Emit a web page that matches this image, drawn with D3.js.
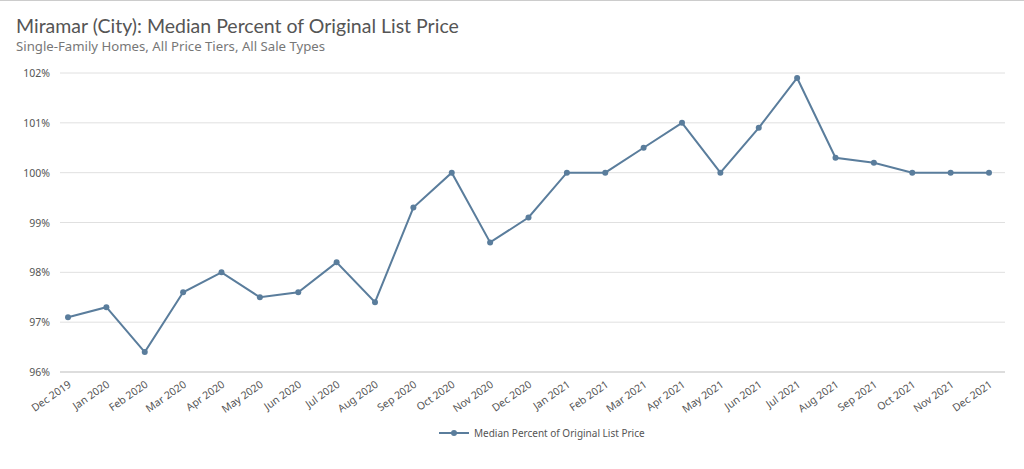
<!DOCTYPE html>
<html>
<head>
<meta charset="utf-8">
<script src="https://cdn.jsdelivr.net/npm/d3@7"></script>
<style>
  body { margin: 0; background: #fff; font-family: "Noto Sans", "Open Sans", sans-serif; }
</style>
</head>
<body>
<div id="chart"></div>
<script>
// Chart data
const months = ["Dec 2019", "Jan 2020", "Feb 2020", "Mar 2020", "Apr 2020", "May 2020", "Jun 2020",
  "Jul 2020", "Aug 2020", "Sep 2020", "Oct 2020", "Nov 2020", "Dec 2020", "Jan 2021", "Feb 2021",
  "Mar 2021", "Apr 2021", "May 2021", "Jun 2021", "Jul 2021", "Aug 2021", "Sep 2021", "Oct 2021",
  "Nov 2021", "Dec 2021"];
const medianPct = [97.1, 97.3, 96.4, 97.6, 98.0, 97.5, 97.6, 98.2, 97.4, 99.3, 100.0, 98.6, 99.1,
  100.0, 100.0, 100.5, 101.0, 100.0, 100.9, 101.9, 100.3, 100.2, 100.0, 100.0, 100.0];
const yTicks = [96, 97, 98, 99, 100, 101, 102];

const width = 1024, height = 469;
const margin = {top: 73, right: 19, bottom: 97, left: 60};
const lineColor = "#5a7d9c";

const svg = d3.select("#chart").append("svg")
    .attr("width", width)
    .attr("height", height);

// top border
svg.append("line")
    .attr("x1", 0).attr("x2", width).attr("y1", 0.5).attr("y2", 0.5)
    .attr("stroke", "#ccc");

// Title and subtitle
svg.append("text")
    .attr("x", 16).attr("y", 33)
    .attr("font-size", 19.5)
    .attr("font-family", "Lato, sans-serif")
    .attr("fill", "#555")
    .text("Miramar (City): Median Percent of Original List Price");

svg.append("text")
    .attr("x", 16).attr("y", 51)
    .attr("font-size", 13.2)
    .attr("fill", "#777")
    .text("Single-Family Homes, All Price Tiers, All Sale Types");

// Scales
const x = d3.scalePoint()
    .domain(months)
    .range([68, 989]);

const y = d3.scaleLinear()
    .domain([96, 102])
    .range([372, 73]);

// Gridlines
svg.append("g")
    .selectAll("line")
    .data(yTicks)
    .enter().append("line")
    .attr("x1", margin.left)
    .attr("x2", width - margin.right)
    .attr("y1", d => y(d))
    .attr("y2", d => y(d))
    .attr("stroke", d => d === 96 ? "#bbb" : "#e0e0e0");

// Y labels
svg.append("g")
    .selectAll("text")
    .data(yTicks)
    .enter().append("text")
    .attr("x", 50)
    .attr("y", d => y(d) + 4)
    .attr("text-anchor", "end")
    .attr("font-size", 10.5)
    .attr("fill", "#555")
    .text(d => d + "%");

// X labels, rotated
svg.append("g")
    .selectAll("text")
    .data(months)
    .enter().append("text")
    .attr("text-anchor", "end")
    .attr("font-size", 10.5)
    .attr("fill", "#555")
    .attr("transform", d => `translate(${x(d) + 4},${y(96) + 14}) rotate(-35)`)
    .text(d => d);

// Line
const line = d3.line()
    .x((d, i) => x(months[i]))
    .y(d => y(d));

svg.append("path")
    .datum(medianPct)
    .attr("fill", "none")
    .attr("stroke", lineColor)
    .attr("stroke-width", 2)
    .attr("d", line);

svg.append("g")
    .selectAll("circle")
    .data(medianPct)
    .enter().append("circle")
    .attr("cx", (d, i) => x(months[i]))
    .attr("cy", d => y(d))
    .attr("r", 3)
    .attr("fill", lineColor);

// Legend
const legend = svg.append("g").attr("transform", "translate(439,433)");
legend.append("line")
    .attr("x1", 0).attr("x2", 30).attr("y1", 0).attr("y2", 0)
    .attr("stroke", lineColor).attr("stroke-width", 2);
legend.append("circle")
    .attr("cx", 15).attr("cy", 0).attr("r", 3).attr("fill", lineColor);
legend.append("text")
    .attr("x", 35).attr("y", 4)
    .attr("font-size", 10)
    .attr("fill", "#555")
    .text("Median Percent of Original List Price");
</script>
</body>
</html>
